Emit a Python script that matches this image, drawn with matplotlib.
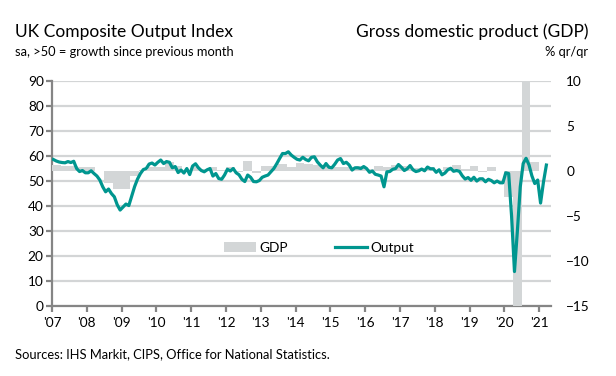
import numpy as np
import matplotlib
matplotlib.use("Agg")
import matplotlib.pyplot as plt
from matplotlib.patches import Patch
from matplotlib.lines import Line2D

plt.rcParams['font.family'] = ['Lato', 'DejaVu Sans']

# monthly composite output index, Jan 2007 - Mar 2021
output = [
    58.6, 58.0, 57.6, 57.4, 57.3, 57.8, 57.4, 57.9, 55.0, 53.8, 54.2, 53.3,   # 2007
    53.3, 54.1, 53.0, 52.0, 50.4, 47.7, 45.7, 46.8, 45.0, 43.7, 40.5, 38.4,   # 2008
    39.6, 40.8, 40.2, 44.0, 47.8, 50.8, 53.0, 54.6, 55.0, 56.8, 57.2, 56.4,   # 2009
    57.5, 58.4, 57.0, 57.8, 57.5, 55.3, 55.8, 53.4, 54.4, 53.2, 55.0, 52.6,   # 2010
    56.0, 56.9, 55.3, 54.2, 53.7, 54.5, 55.0, 52.0, 53.0, 51.0, 50.7, 52.4,   # 2011
    54.7, 54.0, 55.0, 53.3, 52.5, 50.7, 49.8, 52.4, 51.5, 49.8, 49.7, 50.2,   # 2012
    51.5, 52.0, 52.4, 53.7, 55.0, 56.9, 59.0, 61.0, 61.0, 61.7, 60.4, 59.5,   # 2013
    58.7, 58.4, 59.5, 58.6, 58.1, 59.5, 59.7, 57.7, 56.4, 55.3, 57.0, 55.5,   # 2014
    55.3, 56.7, 58.4, 59.0, 57.0, 57.5, 56.4, 54.4, 55.3, 55.3, 55.0, 55.8,   # 2015
    55.0, 53.5, 54.0, 52.7, 52.4, 52.0, 47.7, 53.7, 53.8, 54.7, 55.0, 56.6,   # 2016
    55.5, 54.2, 54.9, 56.2, 54.5, 53.8, 54.1, 54.8, 54.1, 55.6, 54.9, 54.9,   # 2017
    53.5, 54.5, 52.5, 53.2, 54.5, 55.1, 53.9, 54.2, 53.9, 52.1, 50.8, 51.4,   # 2018
    50.3, 51.5, 50.0, 50.9, 50.9, 49.7, 50.7, 50.2, 49.3, 50.0, 49.3, 49.3,   # 2019
    53.3, 53.0, 36.0, 13.8, 30.0, 47.7, 57.0, 59.1, 56.5, 52.1, 49.0, 50.4,   # 2020
    41.2, 49.6, 56.4,                                                         # 2021
]

# quarterly GDP, % q/q, 2007 Q1 - 2020 Q4
gdp = [
    0.7, 0.6, 0.6, 0.5,
    0.5, 0.0, -1.3, -2.0,
    -2.0, -0.5, 0.1, 0.4,
    0.5, 1.0, 0.6, 0.0,
    0.4, 0.2, 0.4, 0.1,
    0.5, -0.1, 1.1, -0.2,
    0.6, 0.6, 0.8, 0.5,
    0.9, 0.8, 0.7, 0.7,
    0.4, 0.5, 0.4, 0.6,
    0.2, 0.6, 0.5, 0.7,
    0.6, 0.3, 0.3, 0.4,
    0.1, 0.5, 0.7, 0.2,
    0.6, -0.1, 0.5, 0.0,
    -2.9, -19.5, 16.1, 1.0,
]

years = list(range(2007, 2022))
year_labels = ["'%02d" % (y % 100) for y in years]

month_x = 2007 + (np.arange(len(output)) + 0.5) / 12
quarter_x = 2007 + np.arange(len(gdp)) * 0.25

teal = '#00968f'
bar_grey = '#d3d6d7'
grid_grey = '#d3d5d6'
axis_grey = '#858585'

fig = plt.figure(figsize=(6.16, 3.76), dpi=100)
ax = fig.add_axes([0.0844, 0.186, 0.810, 0.5985])

# left scale: index, gridlines
ax.set_ylim(0, 90)
ax.set_yticks(range(0, 91, 10))
ax.set_xlim(2007, 2021.34)
ax.set_xticks(years)
ax.set_xticklabels(year_labels)
ax.grid(axis='y', color=grid_grey, linewidth=1.6)
ax.set_axisbelow(True)
for s in ['top', 'right']:
    ax.spines[s].set_visible(False)
for s in ['left', 'bottom']:
    ax.spines[s].set_color(axis_grey)
    ax.spines[s].set_linewidth(1.6)
ax.tick_params(axis='both', colors=axis_grey, width=1.6, length=4,
               labelcolor='black', labelsize=9.8)
ax.tick_params(axis='y', pad=2)
ax.tick_params(axis='x', pad=4)

# right scale: GDP bars
ax2 = ax.twinx()
ax2.set_ylim(-15, 10)
ax2.set_yticks(range(-15, 11, 5))
ax2.bar(quarter_x, gdp, width=0.25, align='edge', color=bar_grey, linewidth=0)
for s in ax2.spines.values():
    s.set_visible(False)
ax2.tick_params(axis='y', length=0, pad=11, labelsize=9.8)

# index line on top
ax3 = ax.twinx()
ax3.set_ylim(0, 90)
ax3.plot(month_x, output, color=teal, linewidth=2.3, solid_joinstyle='round')
ax3.axis('off')

handles = [Patch(facecolor=bar_grey, edgecolor='none'),
           Line2D([], [], color=teal, linewidth=2.3)]
ax3.legend(handles, ['GDP', 'Output'], loc='center', bbox_to_anchor=(0.535, 0.26),
           ncol=2, frameon=False, fontsize=9.8, handlelength=2.4,
           handletextpad=0.25, columnspacing=3.4)

fig.text(15 / 616, 1 - 32 / 376, 'UK Composite Output Index', fontsize=12.5,
         ha='left', va='center')
fig.text(15 / 616, 1 - 52 / 376, 'sa, >50 = growth since previous month', fontsize=9.3,
         ha='left', va='center')
fig.text(588 / 616, 1 - 32 / 376, 'Gross domestic product (GDP)', fontsize=12.5,
         ha='right', va='center')
fig.text(588 / 616, 1 - 52 / 376, '% qr/qr', fontsize=9.3,
         ha='right', va='center')
fig.text(15 / 616, 1 - 354 / 376, 'Sources: IHS Markit, CIPS, Office for National Statistics.',
         fontsize=9.3, ha='left', va='center')

fig.savefig('out.png', dpi=100)
